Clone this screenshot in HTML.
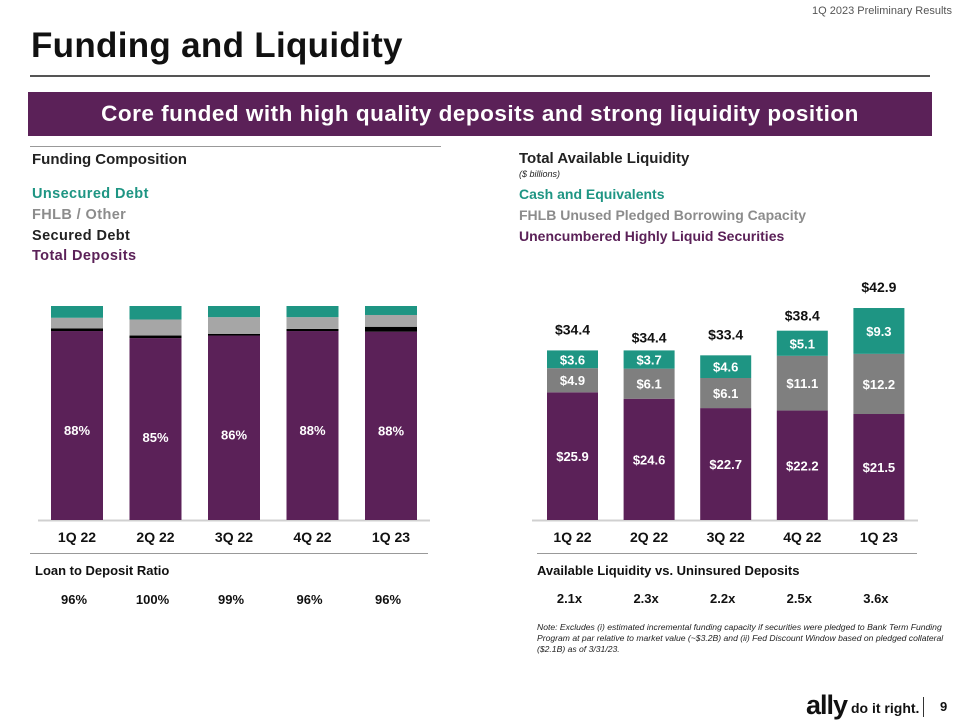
<!DOCTYPE html>
<html><head><meta charset="utf-8"><style>
body{margin:0;width:960px;height:720px;background:#fff;font-family:"Liberation Sans",sans-serif;position:relative;overflow:hidden}
div,span{position:absolute}
.b{font-weight:bold}
.lg{font-size:14.5px;font-weight:bold;left:32px;letter-spacing:0.4px}
.rg{font-size:14px;font-weight:bold;left:519px}
</style></head><body>
<div style="right:8px;top:5px;font-size:11px;color:#555">1Q 2023 Preliminary Results</div>
<div class="b" style="left:31px;top:26px;font-size:35px;color:#111;letter-spacing:0.3px">Funding and Liquidity</div>
<div style="left:30px;top:75px;width:900px;height:2px;background:#555"></div>
<div style="left:28px;top:92px;width:904px;height:44px;background:#5b2158;color:#fff;font-size:22.5px;font-weight:bold;text-align:center;line-height:44px;letter-spacing:0.5px">Core funded with high quality deposits and strong liquidity position</div>
<div style="left:30px;top:146px;width:411px;height:1px;background:#999"></div>
<div class="b" style="left:32px;top:151px;font-size:15px;color:#222">Funding Composition</div>
<div class="b" style="left:519px;top:150px;font-size:15px;color:#222">Total Available Liquidity</div>
<div style="left:519px;top:169px;font-size:9px;font-style:italic;color:#222">($ billions)</div>
<div class="lg" style="top:186px;color:#1e9583">Unsecured Debt</div>
<div class="lg" style="top:207px;color:#8c8c8c">FHLB / Other</div>
<div class="lg" style="top:228px;color:#222">Secured Debt</div>
<div class="lg" style="top:248px;color:#5b2158">Total Deposits</div>
<div class="rg" style="top:186px;color:#1e9583">Cash and Equivalents</div>
<div class="rg" style="top:207px;color:#8c8c8c">FHLB Unused Pledged Borrowing Capacity</div>
<div class="rg" style="top:228px;color:#5b2158">Unencumbered Highly Liquid Securities</div>

<svg width="960" height="720" style="position:absolute;left:0;top:0" id="svg"></svg>

<div style="left:30px;top:553px;width:398px;height:1px;background:#999"></div>
<div style="left:537px;top:553px;width:380px;height:1px;background:#999"></div>
<div class="b" style="left:35px;top:563px;font-size:13px;color:#111">Loan to Deposit Ratio</div>
<div class="b" style="left:537px;top:563px;font-size:13px;color:#111">Available Liquidity vs. Uninsured Deposits</div>
<div style="left:537px;top:622px;width:415px;font-size:8.6px;line-height:11px;font-style:italic;color:#222">Note: Excludes (i) estimated incremental funding capacity if securities were pledged to Bank Term Funding Program at par relative to market value (~$3.2B) and (ii) Fed Discount Window based on pledged collateral ($2.1B) as of 3/31/23.</div>
<div class="b" style="left:806px;top:690px;font-size:27px;color:#111;letter-spacing:-1px">ally</div>
<div class="b" style="left:851px;top:700px;font-size:14px;color:#111">do it right.</div>
<div style="left:923px;top:697px;width:1px;height:20px;background:#333"></div>
<div class="b" style="left:940px;top:699px;font-size:13px;color:#111">9</div>

<script>
const categories=["1Q 22","2Q 22","3Q 22","4Q 22","1Q 23"];
const deposits=[88.3,85.0,86.2,88.3,88.0];
const secured=[1.2,1.2,0.8,1.0,2.3];
const fhlbOther=[5.0,7.5,7.8,5.5,5.5];
const unsecured=[5.5,6.3,5.2,5.2,4.2];
const depositLabels=["88%","85%","86%","88%","88%"];
const ldr=["96%","100%","99%","96%","96%"];
const securities=[25.9,24.6,22.7,22.2,21.5];
const fhlbUnused=[4.9,6.1,6.1,11.1,12.2];
const cash=[3.6,3.7,4.6,5.1,9.3];
const totals=["$34.4","$34.4","$33.4","$38.4","$42.9"];
const coverage=["2.1x","2.3x","2.2x","2.5x","3.6x"];

const svg=document.getElementById('svg');
const NS="http://www.w3.org/2000/svg";
function mk(t,a,txt){const e=document.createElementNS(NS,t);for(const k in a)e.setAttribute(k,a[k]);if(txt!=null)e.textContent=txt;svg.appendChild(e);return e;}
const base=520;
const lx=i=>51+i*78.5, lw=52, ly=v=>v*2.14;
mk('line',{x1:38,x2:430,y1:base+0.5,y2:base+0.5,stroke:'#d0d0d0','stroke-width':2});
categories.forEach((c,i)=>{
  let y=base;
  const segs=[[deposits[i],'#5b2158','deposits'],[secured[i],'#000','secured'],[fhlbOther[i],'#a6a6a6','fhlb'],[unsecured[i],'#1e9583','unsecured']];
  segs.forEach(s=>{const h=ly(s[0]);y-=h;
    const r=mk('rect',{x:lx(i),y:y,width:lw,height:h,fill:s[1]});
    
    
  });
  const dt=base-ly(deposits[i]);
  const t=mk('text',{x:lx(i)+lw/2,y:dt+104,'text-anchor':'middle',fill:'#fff','font-size':13,'font-weight':'bold'},depositLabels[i]);
  
  
  const xl=mk('text',{x:lx(i)+lw/2,y:542,'text-anchor':'middle',fill:'#111','font-size':14,'font-weight':'bold'},c);
  
  
  const v=mk('text',{x:lx(i)+lw/2-3,y:604,'text-anchor':'middle',fill:'#111','font-size':13,'font-weight':'bold'},ldr[i]);
  
  
});
const rx=i=>547+i*76.6, rw=51, ry=v=>v*4.93;
mk('line',{x1:532,x2:918,y1:base+0.5,y2:base+0.5,stroke:'#d0d0d0','stroke-width':2});
categories.forEach((c,i)=>{
  let y=base;
  const segs=[[securities[i],'#5b2158','securities'],[fhlbUnused[i],'#7f7f7f','fhlb-unused'],[cash[i],'#1e9583','cash']];
  segs.forEach((s,k)=>{const h=ry(s[0]);y-=h;
    const r=mk('rect',{x:rx(i),y:y,width:rw,height:h,fill:s[1]});
    
    
    const t=mk('text',{x:rx(i)+rw/2,y:y+(k==0?Math.min(h/2,68):h/2)+5,'text-anchor':'middle',fill:'#fff','font-size':13,'font-weight':'bold'},'$'+s[0].toFixed(1));
    
    
  });
  const tt=mk('text',{x:rx(i)+rw/2,y:y-10-(i%2?0:6)+(i==1?2:0),'text-anchor':'middle',fill:'#111','font-size':14,'font-weight':'bold'},totals[i]);
  
  
  const xl=mk('text',{x:rx(i)+rw/2,y:542,'text-anchor':'middle',fill:'#111','font-size':14,'font-weight':'bold'},c);
  
  
  const v=mk('text',{x:rx(i)+rw/2-3,y:603,'text-anchor':'middle',fill:'#111','font-size':13,'font-weight':'bold'},coverage[i]);
  
  
});
</script>
</body></html>
